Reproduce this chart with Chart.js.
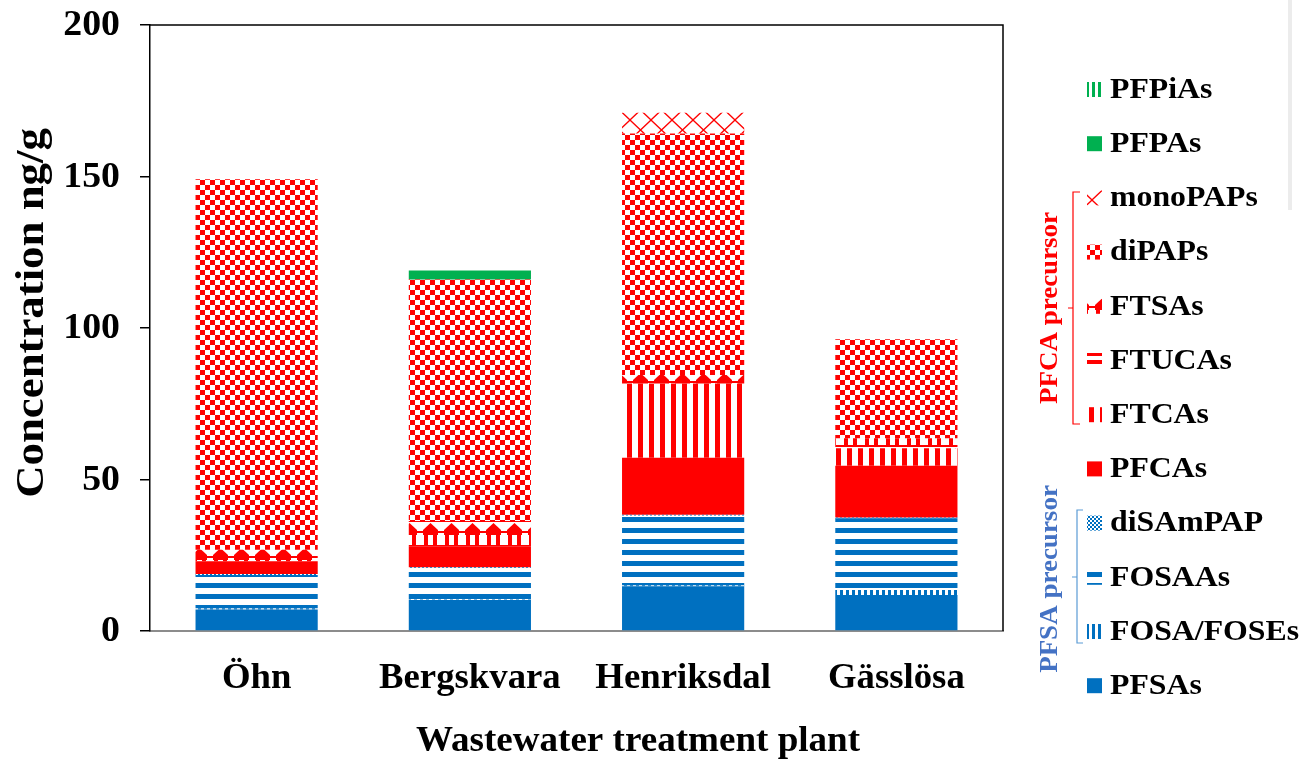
<!DOCTYPE html>
<html lang="en">
<head>
<meta charset="UTF-8">
<title>PFAS concentrations</title>
<script src="https://cdn.jsdelivr.net/npm/chart.js"></script>
<style>
  html, body { margin: 0; padding: 0; background: #fff; }
  canvas { display: block; }
</style>
</head>
<body>
<canvas id="chart" width="1305" height="759"></canvas>
<script>
// plants on the x axis
const categories = ['Öhn', 'Bergskvara', 'Henriksdal', 'Gässlösa'];
const yTicks = [0, 50, 100, 150, 200];

// concentrations in ng/g, stacked bottom to top
const pfsas      = [7.1, 10.2, 14.8, 11.9];
const fosaFoses  = [0.4, 0.2, 0.3, 1.6];
const fosaas     = [11.0, 10.4, 23.0, 23.7];
const disampap   = [0.3, 0.2, 0.3, 0.3];
const pfcas      = [4.2, 7.0, 18.8, 17.0];
const ftcas      = [0, 0, 24.5, 5.8];
const ftucas     = [0, 0, 0, 0];
const ftsas      = [3.8, 8.3, 2.8, 3.3];
const dipaps     = [122.3, 79.7, 79.7, 32.7];
const monopaps   = [0, 0, 6.8, 0];
const pfpas      = [0, 3.0, 0, 0];
const pfpias     = [0, 0, 0, 0];

const BLUE = '#0070C0', RED = '#FF0000', GREEN = '#00B050';
const FONT = '"Liberation Serif", "Times New Roman", serif';

function pattern(w, h, draw) {
  const c = document.createElement('canvas');
  c.width = w; c.height = h;
  const g = c.getContext('2d');
  draw(g);
  return g.createPattern(c, 'repeat');
}
const vStripes = (col, w, on) => pattern(w, 1, g => { g.fillStyle = col; g.fillRect(0, 0, on, 1); });
const hStripes = (col, h, on) => pattern(1, h, g => { g.fillStyle = col; g.fillRect(0, 0, 1, on); });
const checker = (col, s) => pattern(s * 2, s * 2, g => {
  g.fillStyle = col; g.fillRect(0, 0, s, s); g.fillRect(s, s, s, s);
});

// little "tree" motif used for FTSAs
const ftsaFill = pattern(21, 25, g => {
  g.fillStyle = RED;
  g.beginPath();
  g.moveTo(10.5, 1); g.lineTo(18, 8); g.lineTo(18, 13); g.lineTo(3, 13); g.lineTo(3, 8);
  g.closePath(); g.fill();
  g.fillRect(0, 9, 21, 2);
  g.fillRect(4, 13, 4, 10);
  g.fillRect(13, 13, 4, 10);
  g.fillRect(0, 23, 21, 2);
});
ftsaFill.setTransform(new DOMMatrix().translate(0, 22));

// lattice for monoPAPs
const monoFill = pattern(21, 20, g => {
  g.strokeStyle = RED; g.lineWidth = 1.3;
  g.beginPath();
  g.moveTo(0, 0); g.lineTo(21, 20);
  g.moveTo(21, 0); g.lineTo(0, 20);
  g.stroke();
});

const series = [
  { label: 'PFSAs',      data: pfsas,     bg: BLUE },
  { label: 'FOSA/FOSEs', data: fosaFoses, bg: vStripes(BLUE, 6, 3) },
  { label: 'FOSAAs',     data: fosaas,    bg: hStripes(BLUE, 11, 5) },
  { label: 'diSAmPAP',   data: disampap,  bg: checker(BLUE, 2) },
  { label: 'PFCAs',      data: pfcas,     bg: RED },
  { label: 'FTCAs',      data: ftcas,     bg: vStripes(RED, 11, 5) },
  { label: 'FTUCAs',     data: ftucas,    bg: hStripes(RED, 8, 4) },
  { label: 'FTSAs',      data: ftsas,     bg: ftsaFill },
  { label: 'diPAPs',     data: dipaps,    bg: checker(RED, 5) },
  { label: 'monoPAPs',   data: monopaps,  bg: monoFill },
  { label: 'PFPAs',      data: pfpas,     bg: GREEN },
  { label: 'PFPiAs',     data: pfpias,    bg: vStripes(GREEN, 6, 3) }
];

// draws text, optionally stretched along the reading direction
function text(ctx, str, x, y, size, color, opts = {}) {
  ctx.save();
  ctx.translate(x, y);
  if (opts.rotate) ctx.rotate(opts.rotate);
  ctx.scale(opts.sx || 1, 1);
  ctx.font = 'bold ' + size + 'px ' + FONT;
  ctx.fillStyle = color;
  ctx.textAlign = opts.align || 'center';
  ctx.textBaseline = 'middle';
  ctx.fillText(str, 0, 0);
  ctx.restore();
}

const decorations = {
  id: 'decorations',
  afterDraw(chart) {
    const ctx = chart.ctx;
    const a = chart.chartArea;
    const xs = chart.scales.x, ys = chart.scales.y;

    // frame on top and right
    ctx.save();
    ctx.strokeStyle = '#000';
    ctx.lineWidth = 1.5;
    ctx.beginPath();
    ctx.moveTo(a.left, a.top); ctx.lineTo(a.right, a.top); ctx.lineTo(a.right, a.bottom);
    ctx.stroke();
    ctx.restore();

    // axis labels
    yTicks.forEach(v => text(ctx, String(v), 120, ys.getPixelForValue(v) + 1, 36, '#000', { align: 'right', sx: 1.05 }));
    categories.forEach((c, i) => text(ctx, c, xs.getPixelForValue(i), 679, 35, '#000', { sx: 1.05 }));
    text(ctx, 'Concentration ng/g', 33, 313, 40, '#000', { rotate: -Math.PI / 2, sx: 1.12 });
    text(ctx, 'Wastewater treatment plant', 638, 742, 36, '#000', { sx: 1.03 });

    // legend, top entry is the last series
    const ds = chart.data.datasets;
    for (let k = 0; k < ds.length; k++) {
      const d = ds[ds.length - 1 - k];
      const y = 90 + k * 54.2;
      ctx.fillStyle = d.backgroundColor;
      ctx.fillRect(1087, y - 8, 15, 15);
      text(ctx, d.label, 1110, y, 30, '#000', { align: 'left', sx: 1.06 });
    }

    // group brackets
    ctx.save();
    ctx.lineWidth = 1.2;
    ctx.strokeStyle = RED;
    ctx.beginPath();
    ctx.moveTo(1080, 192); ctx.lineTo(1073, 192); ctx.lineTo(1073, 424); ctx.lineTo(1080, 424);
    ctx.moveTo(1073, 308); ctx.lineTo(1068, 308);
    ctx.stroke();
    ctx.strokeStyle = '#5B9BD5';
    ctx.beginPath();
    ctx.moveTo(1083, 510); ctx.lineTo(1077, 510); ctx.lineTo(1077, 643); ctx.lineTo(1083, 643);
    ctx.moveTo(1077, 577); ctx.lineTo(1072, 577);
    ctx.stroke();
    ctx.restore();
    text(ctx, 'PFCA precursor', 1051, 308, 25, RED, { rotate: -Math.PI / 2, sx: 1.08 });
    text(ctx, 'PFSA precursor', 1051, 579, 25, '#4472C4', { rotate: -Math.PI / 2, sx: 1.08 });

    // faint divider at the right edge
    ctx.fillStyle = '#ececec';
    ctx.fillRect(1288, 0, 4, 210);
  }
};

new Chart(document.getElementById('chart'), {
  type: 'bar',
  data: {
    labels: categories,
    datasets: series.map(s => ({
      label: s.label,
      data: s.data,
      backgroundColor: s.bg,
      borderWidth: 0,
      barPercentage: 0.573,
      categoryPercentage: 1
    }))
  },
  options: {
    responsive: false,
    animation: false,
    layout: { padding: { top: 25, right: 302, left: 0, bottom: 0 } },
    plugins: { legend: { display: false }, tooltip: { enabled: false } },
    scales: {
      x: {
        stacked: true,
        grid: { display: false },
        border: { color: '#8c8c8c', width: 2 },
        ticks: { display: false },
        afterFit: s => { s.height = 128; }
      },
      y: {
        stacked: true,
        min: 0,
        max: 200,
        ticks: { display: false, stepSize: 50 },
        grid: { drawOnChartArea: false, color: '#000', tickLength: 10, lineWidth: 1.5 },
        border: { color: '#000', width: 1.5 },
        afterFit: s => { s.width = 150; }
      }
    }
  },
  plugins: [decorations]
});
</script>
</body>
</html>
